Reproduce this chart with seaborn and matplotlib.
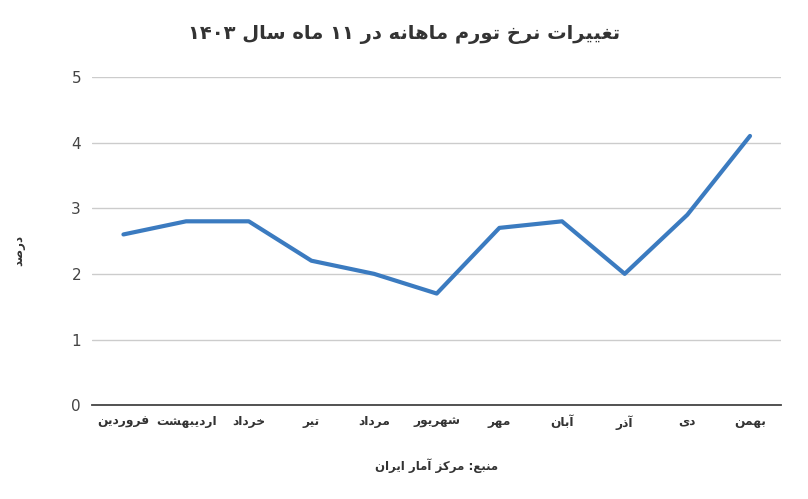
import re
import pandas as pd
import matplotlib
matplotlib.use("Agg")
import matplotlib.pyplot as plt
import seaborn as sns

# data
months = ["فروردین", "اردیبهشت", "خرداد", "تیر", "مرداد", "شهریور",
          "مهر", "آبان", "آذر", "دی", "بهمن"]
inflation = [2.6, 2.8, 2.8, 2.2, 2.0, 1.7, 2.7, 2.8, 2.0, 2.9, 4.1]
y_ticks = [0, 1, 2, 3, 4, 5]
title = "تغییرات نرخ تورم ماهانه در ۱۱ ماه سال ۱۴۰۳"
y_label = "درصد"
source = "منبع: مرکز آمار ایران"

# matplotlib has no arabic shaping, so pick presentation forms by hand
# (isolated, final, initial, medial); None = letter does not join forward
FORMS = {
    '\u0627': (0xFE8D, 0xFE8E, None, None),      # alef
    '\u0622': (0xFE81, 0xFE82, None, None),      # alef madda
    '\u0628': (0xFE8F, 0xFE90, 0xFE91, 0xFE92),  # beh
    '\u062a': (0xFE95, 0xFE96, 0xFE97, 0xFE98),  # teh
    '\u062e': (0xFEA5, 0xFEA6, 0xFEA7, 0xFEA8),  # khah
    '\u062f': (0xFEA9, 0xFEAA, None, None),      # dal
    '\u0630': (0xFEAB, 0xFEAC, None, None),      # thal
    '\u0631': (0xFEAD, 0xFEAE, None, None),      # reh
    '\u0632': (0xFEAF, 0xFEB0, None, None),      # zain
    '\u0633': (0xFEB1, 0xFEB2, 0xFEB3, 0xFEB4),  # seen
    '\u0634': (0xFEB5, 0xFEB6, 0xFEB7, 0xFEB8),  # sheen
    '\u0635': (0xFEB9, 0xFEBA, 0xFEBB, 0xFEBC),  # sad
    '\u0639': (0xFEC9, 0xFECA, 0xFECB, 0xFECC),  # ain
    '\u063a': (0xFECD, 0xFECE, 0xFECF, 0xFED0),  # ghain
    '\u0641': (0xFED1, 0xFED2, 0xFED3, 0xFED4),  # feh
    '\u06a9': (0xFB8E, 0xFB8F, 0xFB90, 0xFB91),  # keheh
    '\u0644': (0xFEDD, 0xFEDE, 0xFEDF, 0xFEE0),  # lam
    '\u0645': (0xFEE1, 0xFEE2, 0xFEE3, 0xFEE4),  # meem
    '\u0646': (0xFEE5, 0xFEE6, 0xFEE7, 0xFEE8),  # noon
    '\u0647': (0xFEE9, 0xFEEA, 0xFEEB, 0xFEEC),  # heh
    '\u0648': (0xFEED, 0xFEEE, None, None),      # waw
    '\u06cc': (0xFBFC, 0xFBFD, 0xFBFE, 0xFBFF),  # farsi yeh
}


def fa(text):
    text = text.replace('\u064a', '\u06cc').replace('\u0643', '\u06a9')
    out = []
    for i, ch in enumerate(text):
        if ch not in FORMS:
            out.append(ch)
            continue
        prev = text[i - 1] if i > 0 else ''
        nxt = text[i + 1] if i < len(text) - 1 else ''
        iso, fin, ini, med = FORMS[ch]
        join_prev = prev in FORMS and FORMS[prev][2] is not None
        join_next = nxt in FORMS and ini is not None
        if join_prev and join_next:
            c = med
        elif join_prev:
            c = fin
        elif join_next:
            c = ini
        else:
            c = iso
        out.append(chr(c))
    vis = ''.join(out)[::-1]
    # digit runs stay left to right
    vis = re.sub(r'[0-9\u06f0-\u06f9\u0660-\u0669]+', lambda m: m.group(0)[::-1], vis)
    return vis


sns.set_style("white")
plt.rcParams['font.family'] = ['DejaVu Sans']

df = pd.DataFrame({'month': [fa(m) for m in months], 'value': inflation})

fig = plt.figure(figsize=(8.08, 4.99), dpi=100)
ax = fig.add_axes([0.114, 0.188, 0.853, 0.658])

sns.lineplot(data=df, x='month', y='value', sort=False, color='#3b7bc0',
             linewidth=3.0, ax=ax, zorder=3)

ax.set_xlim(-0.5, len(months) - 0.5)
ax.set_ylim(0, 5)
ax.set_yticks(y_ticks)
ax.yaxis.grid(True, color='#cccccc', linewidth=1)
ax.xaxis.grid(False)
for s in ['left', 'right', 'top']:
    ax.spines[s].set_visible(False)
ax.spines['bottom'].set_color('#444444')
ax.spines['bottom'].set_linewidth(1.3)
ax.tick_params(axis='both', length=0)
ax.tick_params(axis='y', labelsize=11, labelcolor='#444444', pad=8)
ax.tick_params(axis='x', labelsize=8.8, labelcolor='#333333', pad=7)
for lbl in ax.get_xticklabels():
    lbl.set_fontweight('bold')

ax.set_xlabel(fa(source), fontsize=8.5, fontweight='bold', color='#333333')
ax.xaxis.set_label_coords(0.5, -0.163)
ax.set_ylabel(fa(y_label), fontsize=8.5, fontweight='bold', color='#333333')
ax.yaxis.set_label_coords(-0.097, 0.47)
fig.text(0.5, 0.93, fa(title), ha='center', va='center', fontsize=14,
         fontweight='bold', color='#333333')

fig.savefig("out.png", dpi=100)
